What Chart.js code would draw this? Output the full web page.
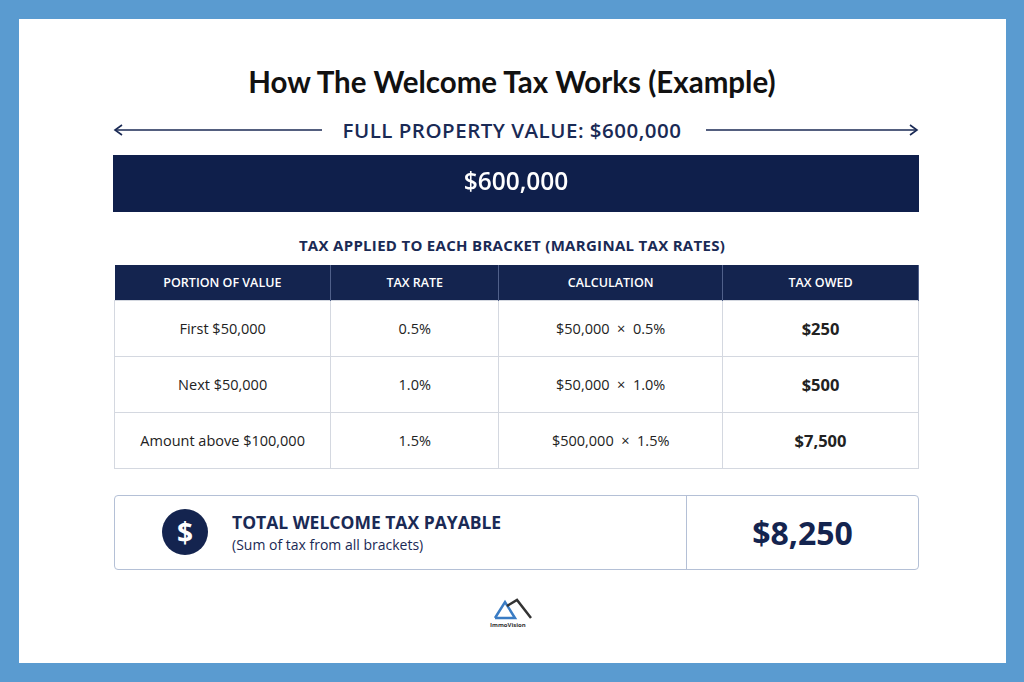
<!DOCTYPE html>
<html><head><meta charset="utf-8">
<script src="https://cdn.jsdelivr.net/npm/chart.js@4"></script>
<style>
body{margin:0;width:1024px;height:682px;background:#5a9bd0;font-family:"Open Sans",sans-serif;overflow:hidden}
#page{position:absolute;left:19px;top:19px;width:987px;height:644px;background:#fff}
.abs{position:absolute}
#title{left:0;width:1024px;top:64px;text-align:center;font-family:Lato,sans-serif;font-weight:700;font-size:29.5px;color:#111}
#full{left:0;width:1024px;top:116px;text-align:center;font-size:20.5px;font-weight:600;color:#1a2a55;letter-spacing:0.5px}
#sub{left:0;width:1024px;top:235px;text-align:center;font-size:15px;font-weight:700;color:#1a2a55;letter-spacing:0.3px}
table{position:absolute;left:114px;top:265px;width:805px;border-collapse:collapse;font-size:14.5px;color:#222}
th{background:#14244f;color:#fff;font-weight:600;font-size:12.5px;height:35px;padding:0;border-right:1px solid #50608a}
td{height:55px;padding:0;border:1px solid #d4d8e0;text-align:center}
#total{left:114px;top:495px;width:803px;height:73px;border:1.5px solid #b4c0d6;border-radius:4px}
</style></head><body>
<div id="page"></div>
<div class="abs" id="title">How The Welcome Tax Works (Example)</div>
<svg class="abs" style="left:110px;top:122px" width="815" height="16" stroke="#1a2a55" stroke-width="1.6" fill="none">
<line x1="6" y1="8" x2="212" y2="8"/><polyline points="12,3 5,8 12,13"/>
<line x1="596" y1="8" x2="806" y2="8"/><polyline points="800,3 807,8 800,13"/></svg>
<div class="abs" id="full">FULL PROPERTY VALUE: $600,000</div>
<div class="abs" style="left:113px;top:155px;width:806px;height:57px"><canvas id="c"></canvas></div>
<div class="abs" id="sub">TAX APPLIED TO EACH BRACKET (MARGINAL TAX RATES)</div>
<table id="t"></table>
<div class="abs" id="total"></div>
<div class="abs" style="left:686px;top:496px;width:1px;height:73px;background:#b4c0d6"></div>
<div class="abs" style="left:162px;top:509px;width:46px;height:46px;border-radius:50%;background:#14244f;color:#fff;font-size:28px;font-weight:700;text-align:center;line-height:46px">$</div>
<div class="abs" style="left:232px;top:510px;font-size:17.5px;font-weight:700;color:#1a2a55">TOTAL WELCOME TAX PAYABLE</div>
<div class="abs" style="left:232px;top:535px;font-size:14px;color:#1a2a55">(Sum of tax from all brackets)</div>
<div class="abs" style="left:686px;width:233px;top:511px;text-align:center;font-size:32px;font-weight:700;color:#14244f" id="tot"></div>
<svg class="abs" style="left:493px;top:598px" width="40" height="22"><polyline points="2,20 12,4 22,20 2,20" fill="none" stroke="#3a7cc4" stroke-width="2.5"/><polyline points="14,8 24,2 38,20" fill="none" stroke="#333" stroke-width="2.5"/></svg>
<div class="abs" style="left:490px;top:621px;font-size:6px;font-weight:700;color:#333">ImmoVision</div>
<script>
const propertyValue = 600000;
const headers = ["PORTION OF VALUE","TAX RATE","CALCULATION","TAX OWED"];
const portions = ["First $50,000","Next $50,000","Amount above $100,000"];
const amounts = [50000,50000,500000];
const rates = [0.5,1.0,1.5];
const taxOwed = [250,500,7500];
const totalTax = 8250;
const fmt = v => "$" + v.toLocaleString("en-US");
const colW=[217,168,224,196];
let h="<tr>"+headers.map((x,i)=>`<th style="width:${colW[i]}px">${x}</th>`).join("")+"</tr>";
portions.forEach((p,i)=>{h+=`<tr><td>${p}</td><td>${rates[i].toFixed(1)}%</td><td>${fmt(amounts[i])} &nbsp;&times;&nbsp; ${rates[i].toFixed(1)}%</td><td style="font-weight:700;font-size:16.5px">${fmt(taxOwed[i])}</td></tr>`});
document.getElementById("t").innerHTML=h;
document.getElementById("tot").textContent=fmt(totalTax);
new Chart(document.getElementById("c"),{
 type:"bar",
 data:{labels:["Value"],datasets:[{data:[propertyValue],backgroundColor:"#0f1f4b",barPercentage:1,categoryPercentage:1}]},
 options:{indexAxis:"y",responsive:true,maintainAspectRatio:false,animation:false,
  layout:{padding:0},
  plugins:{legend:{display:false},tooltip:{enabled:false}},
  scales:{x:{display:false,min:0,max:propertyValue},y:{display:false}}},
 plugins:[{id:"lbl",afterDatasetsDraw(ch){const c=ch.ctx,b=ch.getDatasetMeta(0).data[0];c.save();c.fillStyle="#fff";c.font='600 24.5px "Open Sans"';c.textAlign="center";c.textBaseline="middle";c.fillText(fmt(propertyValue),(ch.chartArea.left+ch.chartArea.right)/2,b.y);c.restore();}}]
});
</script>
</body></html>
